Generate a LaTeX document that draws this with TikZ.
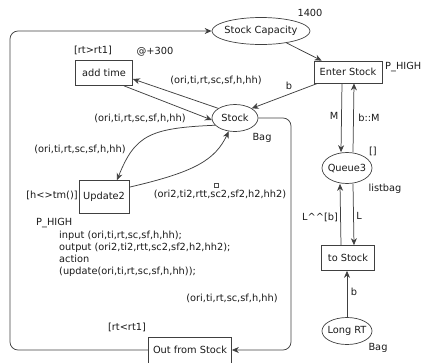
\documentclass[tikz,border=0pt]{standalone}
\usepackage{fontspec}
\setmainfont{DejaVu Sans}
\usetikzlibrary{shapes.geometric, arrows.meta}

\begin{document}
\begin{tikzpicture}[x=1bp, y=-1bp, >={Stealth[length=7bp, width=6bp]},
    every node/.style={font=\fontsize{9.8bp}{12bp}\selectfont, text=black!90},
    place/.style={draw=black!75, line width=0.7pt, ellipse, inner xsep=-6bp, inner ysep=0pt},
    trans/.style={draw=black!75, line width=0.7pt, rectangle, inner sep=0pt},
    arc/.style={->, draw=black!75, line width=0.75pt}]
    \useasboundingbox (0,0) rectangle (424,363);

    % places
    \node[place, minimum width=98bp, minimum height=27bp] (cap) at (261,31) {Stock Capacity};
    \node[place, minimum width=46bp, minimum height=27bp] (stock) at (235,118) {Stock};
    \node[place, minimum width=50bp, minimum height=31bp] (queue) at (347,168) {Queue3};
    \node[place, minimum width=50bp, minimum height=27bp] (long) at (347,331) {Long RT};

    % transitions
    \node[trans, minimum width=68bp, minimum height=22bp] (enter) at (348,72) {Enter Stock};
    \node[trans, minimum width=53bp, minimum height=25bp] (tostock) at (348,258) {to Stock};
    \node[trans, minimum width=57bp, minimum height=25bp] (addtime) at (104,73) {add time};
    \node[trans, minimum width=50bp, minimum height=33bp] (upd) at (104,197) {Update2};
    \node[trans, minimum width=83bp, minimum height=26bp] (out) at (190,350) {Out from Stock};

    \coordinate (lb) at (10,350);
    \coordinate (lt) at (10,31);
    \coordinate (sr1) at (291,118);
    \coordinate (sr2) at (291,350);

    % arcs
    \draw[arc] (cap.-25) -- ([xshift=8bp]enter.north west);
    \draw[arc] ([xshift=4bp]enter.south west) -- (stock.30);
    \draw[arc] ([xshift=-6bp]enter.south) -- ([xshift=-6bp]queue.north);
    \draw[arc] ([xshift=6bp]queue.north) -- ([xshift=6bp]enter.south);
    \draw[arc] ([xshift=-7bp]tostock.north) -- ([xshift=-7bp]queue.south);
    \draw[arc] ([xshift=6bp]queue.south) -- ([xshift=6bp]tostock.north);
    \draw[arc] (long.north) -- (long.north |- tostock.south);
    \draw[arc, rounded corners=8bp] (stock.east) -- (sr1) -- (sr2) -- (out.east);
    \draw[arc, rounded corners=8bp] (out.west) -- (lb) -- (lt) -- (cap.west);
    \draw[arc] (stock.150) -- ([yshift=-6bp]addtime.east);
    \draw[arc] ([xshift=20bp]addtime.south) -- (stock.185);
    \draw[arc] (stock.200) .. controls (150,128) and (135,135) .. ([xshift=13bp]upd.north);
    \draw[arc] ([yshift=-7bp]upd.north east) .. controls (195,172) and (215,160) .. (stock.245);

    % inscriptions
    \node (n1400) at (310,13) {1400};
    \node[anchor=west, inner sep=0pt] (prio1) at (385,67) {P\_HIGH};
    \node (lb1) at (289,86) {b};
    \node (lM) at (334,116) {M};
    \node (lbM) at (369,118) {b::M};
    \node (init) at (373,151) {[]};
    \node (tq) at (385,189) {listbag};
    \node (lLb) at (320,217) {L\textasciicircum\textasciicircum[b]};
    \node (lL) at (359,216) {L};
    \node (lb2) at (354,292) {b};
    \node (tlong) at (378,348) {Bag};
    \node (tstock) at (262,138) {Bag};
    \node (gadd) at (93,50) {[rt>rt1]};
    \node (dadd) at (155,52) {@+300};
    \node (e1) at (216,80) {(ori,ti,rt,sc,sf,h,hh)};
    \node (e2) at (140,118) {(ori,ti,rt,sc,sf,h,hh)};
    \node (e3) at (80,149) {(ori,ti,rt,sc,sf,h,hh)};
    \node (e4) at (220,194) {(ori2,ti2,rtt,sc2,sf2,h2,hh2)};
    \node[draw=black!70, minimum size=4bp, inner sep=0pt] (tok) at (216.5,185.5) {};
    \node (gupd) at (52,195) {[h<>tm()]};
    \node[anchor=west, inner sep=0pt] (prio2) at (36,223) {P\_HIGH};
    \node[anchor=north west, align=left, inner sep=0pt] (code) at (59,231)
        {input (ori,ti,rt,sc,sf,h,hh);\\output (ori2,ti2,rtt,sc2,sf2,h2,hh2);\\action\\(update(ori,ti,rt,sc,sf,h,hh));};
    \node (e5) at (232,298) {(ori,ti,rt,sc,sf,h,hh)};
    \node (gout) at (127,327) {[rt<rt1]};
\end{tikzpicture}
\end{document}
